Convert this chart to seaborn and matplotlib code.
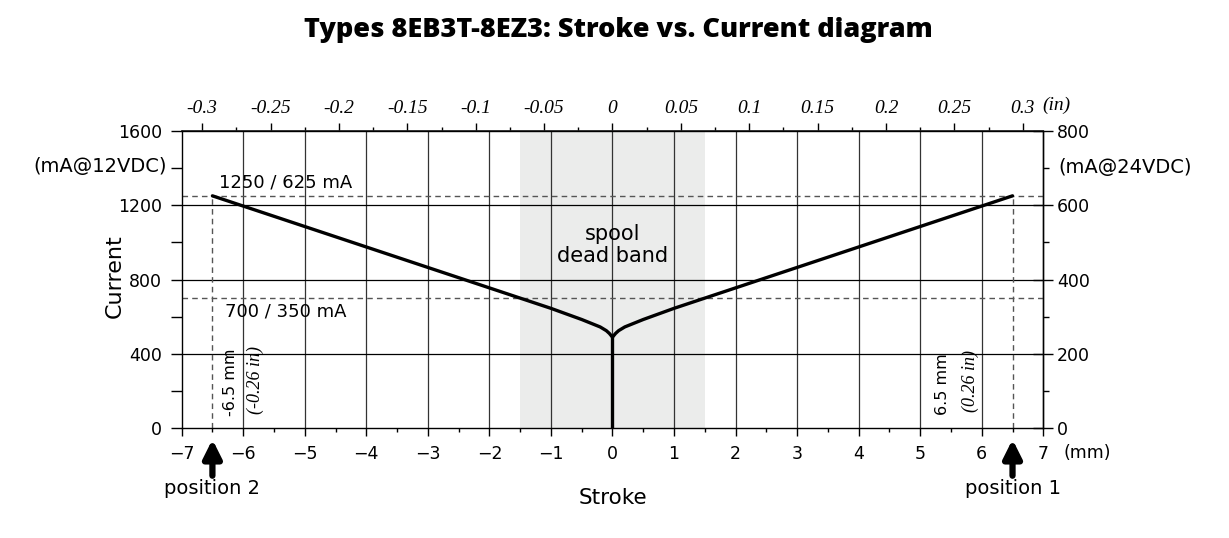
import matplotlib
matplotlib.use("Agg")
import matplotlib.pyplot as plt
import seaborn as sns
import numpy as np
import pandas as pd
from matplotlib.ticker import MultipleLocator

# ---- data ----
branch_mm = [-6.5, -1.5, -1.0, -0.5, -0.2, -0.1, -0.05, 0.0, 0.05, 0.1, 0.2, 0.5, 1.0, 1.5, 6.5]
branch_ma = [1250, 700, 645, 585, 545, 525, 510, 490, 510, 525, 545, 585, 645, 700, 1250]
stem_mm = [0.0, 0.0]
stem_ma = [0, 490]
deadband_mm = [-1.5, 1.5]
level_ma = [1250, 700]
level_labels = ["1250 / 625 mA", "700 / 350 mA"]
positions_mm = [-6.5, 6.5]
position_labels = ["position 2", "position 1"]
pos_mm_labels = ["-6.5 mm", "6.5 mm"]
pos_in_labels = ["(-0.26 in)", "(0.26 in)"]
top_ticks_in = [-0.3, -0.25, -0.2, -0.15, -0.1, -0.05, 0, 0.05, 0.1, 0.15, 0.2, 0.25, 0.3]
top_tick_labels = ["-0.3", "-0.25", "-0.2", "-0.15", "-0.1", "-0.05", "0", "0.05", "0.1", "0.15", "0.2", "0.25", "0.3"]
MM_TO_IN = 0.045  # scale of the top axis as drawn in the reference

sns.set_theme(style="white")
plt.rcParams["font.family"] = ["DejaVu Sans"]
plt.rcParams.update({"text.color": "black", "axes.labelcolor": "black",
                     "xtick.color": "black", "ytick.color": "black"})

FS = 12.5

fig = plt.figure(figsize=(12.29, 5.38), dpi=100)
ax = fig.add_axes([0.1478, 0.2039, 0.7011, 0.5531])
ax.set_xlim(-7, 7)
ax.set_ylim(0, 1600)

# dead band
ax.axvspan(deadband_mm[0], deadband_mm[1], color="#ebeceb", zorder=0, lw=0)

# grid
for xv in range(-6, 7):
    ax.axvline(xv, color="#333333", lw=0.9, zorder=1)
for yv in [400, 800, 1200]:
    ax.axhline(yv, color="black", lw=0.9, zorder=1)

# dashed reference levels
for lv in level_ma:
    ax.axhline(lv, color="#555555", lw=1.0, ls=(0, (4, 3)), zorder=2)
for p in positions_mm:
    ax.plot([p, p], [0, level_ma[0]], color="#555555", lw=1.0, ls=(0, (4, 3)), zorder=2)

# curve
df_b = pd.DataFrame({"stroke": branch_mm, "current": branch_ma})
df_s = pd.DataFrame({"stroke": stem_mm, "current": stem_ma})
sns.lineplot(data=df_b, x="stroke", y="current", sort=False, estimator=None, color="black", lw=2.4, ax=ax, zorder=4)
sns.lineplot(data=df_s, x="stroke", y="current", sort=False, estimator=None, color="black", lw=2.4, ax=ax, zorder=4)

# ticks
ax.xaxis.set_major_locator(MultipleLocator(1))
ax.xaxis.set_minor_locator(MultipleLocator(0.5))
ax.yaxis.set_major_locator(MultipleLocator(400))
ax.yaxis.set_minor_locator(MultipleLocator(200))
ax.tick_params(axis="x", which="major", direction="out", length=6, width=1, labelsize=FS, pad=6, bottom=True)
ax.tick_params(axis="x", which="minor", direction="out", length=3, width=1, bottom=True)
ax.tick_params(axis="y", which="major", direction="out", length=8, width=1, labelsize=FS, pad=6, left=True)
ax.tick_params(axis="y", which="minor", direction="out", length=8, width=1, left=True)
ax.set_xticks(range(-7, 8))
ax.set_xticklabels([f"{v}" if v >= 0 else f"\u2212{-v}" for v in range(-7, 8)])
for sp in ax.spines.values():
    sp.set_color("black")
    sp.set_linewidth(1.0)

ax.set_xlabel("Stroke", fontsize=15.5, labelpad=18)
ax.set_ylabel("Current", fontsize=16)
ax.yaxis.set_label_coords(-0.066, 0.51)

# right axis
ax2 = ax.secondary_yaxis("right", functions=(lambda y: y / 2, lambda y: y * 2))
ax2.yaxis.set_major_locator(MultipleLocator(200))
ax2.yaxis.set_minor_locator(MultipleLocator(100))
ax2.tick_params(which="major", direction="inout", length=14, width=1, labelsize=FS, pad=3)
ax2.tick_params(which="minor", direction="out", length=4, width=1)
ax2.spines["right"].set_linewidth(1.0)

# top axis (inches)
ax3 = ax.secondary_xaxis("top", functions=(lambda x: x * MM_TO_IN, lambda x: x / MM_TO_IN))
ax3.xaxis.set_minor_locator(MultipleLocator(0.025))
ax3.set_xticks(top_ticks_in)
ax3.set_xticklabels(top_tick_labels, fontfamily="Liberation Serif", fontstyle="italic", fontsize=14)
ax3.tick_params(which="major", direction="out", length=6, width=1, pad=4)
ax3.tick_params(which="minor", direction="out", length=3, width=1)

serif_it = dict(fontfamily="Liberation Serif", fontstyle="italic")

# unit labels
ax.text(6.98, 1.086, "(in)", ha="left", va="center", fontsize=14, clip_on=False, **serif_it,
        transform=ax.get_xaxis_transform())
ax.text(7.33, -0.084, "(mm)", ha="left", va="center", fontsize=FS, clip_on=False,
        transform=ax.get_xaxis_transform())
ax.text(-0.017, 1410, "(mA@12VDC)", ha="right", va="center", fontsize=14,
        transform=ax.get_yaxis_transform(), clip_on=False)
ax.text(1.017, 1400, "(mA@24VDC)", ha="left", va="center", fontsize=14,
        transform=ax.get_yaxis_transform(), clip_on=False)

# level labels
ax.text(-6.4, 1275, level_labels[0], ha="left", va="bottom", fontsize=13)
ax.text(-6.3, 675, level_labels[1], ha="left", va="top", fontsize=13)

# dead band label
ax.text(0, 985, "spool\ndead band", ha="center", va="center", fontsize=15, linespacing=1.1)

# position annotations
ax.text(-6.2, 250, pos_mm_labels[0], rotation=90, ha="center", va="center", fontsize=11.5)
ax.text(-5.8, 260, pos_in_labels[0], rotation=90, ha="center", va="center", fontsize=13, **serif_it)
ax.text(5.37, 240, pos_mm_labels[1], rotation=90, ha="center", va="center", fontsize=11.5)
ax.text(5.82, 252, pos_in_labels[1], rotation=90, ha="center", va="center", fontsize=13, **serif_it)

for p, lab in zip(positions_mm, position_labels):
    ax.annotate("", xy=(p, -45), xytext=(p, -270), xycoords="data", textcoords="data",
                arrowprops=dict(arrowstyle="-|>,head_length=0.9,head_width=0.45", color="black", lw=4.5),
                annotation_clip=False)
    ax.text(p, -325, lab, ha="center", va="center", fontsize=14, clip_on=False)

fig.text(0.503, 0.944, "Types 8EB3T-8EZ3: Stroke vs. Current diagram", ha="center", va="center",
         fontsize=19.5, fontweight="heavy", fontfamily="Open Sans")

fig.savefig("out.png", dpi=100)
